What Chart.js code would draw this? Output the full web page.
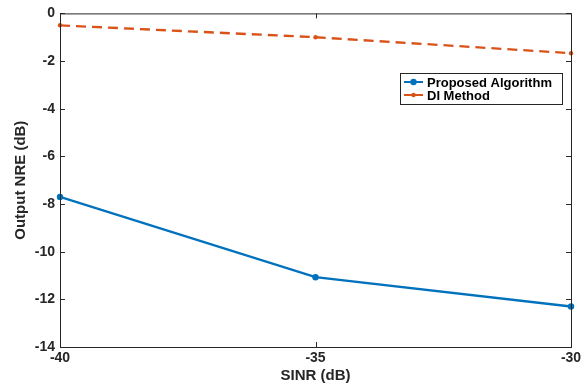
<!DOCTYPE html>
<html>
<head>
<meta charset="utf-8">
<script src="https://cdn.jsdelivr.net/npm/chart.js@4.4.1/dist/chart.umd.min.js"></script>
<style>
  html, body { margin: 0; padding: 0; background: #fff; }
  #wrap { width: 588px; height: 386px; }
</style>
</head>
<body>
<div id="wrap"><canvas id="c" width="588" height="386"></canvas></div>
<script>
const sinr = [-40, -35, -30];
const proposed = [-7.7, -11.07, -12.3];
const diMethod = [-0.5, -1.0, -1.67];
const xTicks = [-40, -35, -30];
const yTicks = [0, -2, -4, -6, -8, -10, -12, -14];

const AX = "#262626";
const FONT = "'Liberation Sans', Arial, sans-serif";

const pts = (ys) => sinr.map((x, i) => ({ x, y: ys[i] }));

// MATLAB-style box, inward ticks on all four sides, and legend
const matlabBox = {
  id: "matlabBox",
  afterDraw(chart) {
    const { ctx, chartArea: a, scales: { x, y } } = chart;
    ctx.save();
    ctx.strokeStyle = AX;
    ctx.lineWidth = 1;
    ctx.strokeRect(a.left + 0.5, a.top + 0.5, a.right - a.left, a.bottom - a.top);
    const tl = 5;
    ctx.beginPath();
    xTicks.forEach((v) => {
      const px = Math.round(x.getPixelForValue(v)) + 0.5;
      ctx.moveTo(px, a.bottom); ctx.lineTo(px, a.bottom - tl);
      ctx.moveTo(px, a.top); ctx.lineTo(px, a.top + tl);
    });
    yTicks.forEach((v) => {
      const py = Math.round(y.getPixelForValue(v)) + 0.5;
      ctx.moveTo(a.left, py); ctx.lineTo(a.left + tl, py);
      ctx.moveTo(a.right, py); ctx.lineTo(a.right - tl, py);
    });
    ctx.stroke();

    // legend
    const lx = 400, ly = 73, lw = 162, lh = 31;
    ctx.fillStyle = "#fff";
    ctx.fillRect(lx, ly, lw, lh);
    ctx.strokeStyle = AX;
    ctx.strokeRect(lx + 0.5, ly + 0.5, lw, lh);
    ctx.font = "bold 13px " + FONT;
    ctx.textBaseline = "middle";
    chart.data.datasets.forEach((ds, i) => {
      const cy = ly + 9 + i * 13;
      ctx.strokeStyle = ds.borderColor;
      ctx.lineWidth = 2;
      ctx.setLineDash([]);
      ctx.beginPath();
      ctx.moveTo(lx + 4, cy); ctx.lineTo(lx + 23, cy);
      ctx.stroke();
      ctx.fillStyle = ds.borderColor;
      ctx.beginPath();
      ctx.arc(lx + 13.5, cy, ds.pointRadius, 0, Math.PI * 2);
      ctx.fill();
      ctx.fillStyle = "#000";
      ctx.fillText(ds.label, lx + 27, cy + 1);
    });
    ctx.restore();
  },
};

new Chart(document.getElementById("c"), {
  type: "line",
  data: {
    datasets: [
      {
        label: "Proposed Algorithm",
        data: pts(proposed),
        borderColor: "#0072BD",
        backgroundColor: "#0072BD",
        borderWidth: 2.3,
        pointRadius: 3.2,
        pointBorderWidth: 0,
        tension: 0,
      },
      {
        label: "DI Method",
        data: pts(diMethod),
        borderColor: "#D95319",
        backgroundColor: "#D95319",
        borderWidth: 2.3,
        borderDash: [10, 6],
        pointRadius: 2.2,
        pointBorderWidth: 0,
        tension: 0,
      },
    ],
  },
  options: {
    responsive: false,
    animation: false,
    clip: false,
    layout: { padding: { left: 12, right: 17, top: 12, bottom: 1 } },
    plugins: { legend: { display: false }, tooltip: { enabled: false } },
    scales: {
      x: {
        type: "linear",
        min: -40,
        max: -30,
        afterBuildTicks: (s) => { s.ticks = xTicks.map((v) => ({ value: v })); },
        afterFit: (s) => { s.height = 38; },
        grid: { display: false, drawTicks: false, tickLength: 0 },
        border: { display: false },
        ticks: { color: "#262626", font: { family: FONT, size: 14, weight: "bold" }, padding: 3, maxRotation: 0 },
        title: { display: true, text: "SINR (dB)", color: "#262626", font: { family: FONT, size: 15, weight: "bold" }, padding: { top: 3, bottom: 0 } },
      },
      y: {
        min: -14,
        max: 0,
        afterBuildTicks: (s) => { s.ticks = yTicks.map((v) => ({ value: v })); },
        afterFit: (s) => { s.width = 48; },
        grid: { display: false, drawTicks: false, tickLength: 0 },
        border: { display: false },
        ticks: { color: "#262626", font: { family: FONT, size: 14, weight: "bold" }, padding: 5 },
        title: { display: true, text: "Output NRE (dB)", color: "#262626", font: { family: FONT, size: 15, weight: "bold" }, padding: { top: 0, bottom: 0 } },
      },
    },
  },
  plugins: [matlabBox],
});
</script>
</body>
</html>
